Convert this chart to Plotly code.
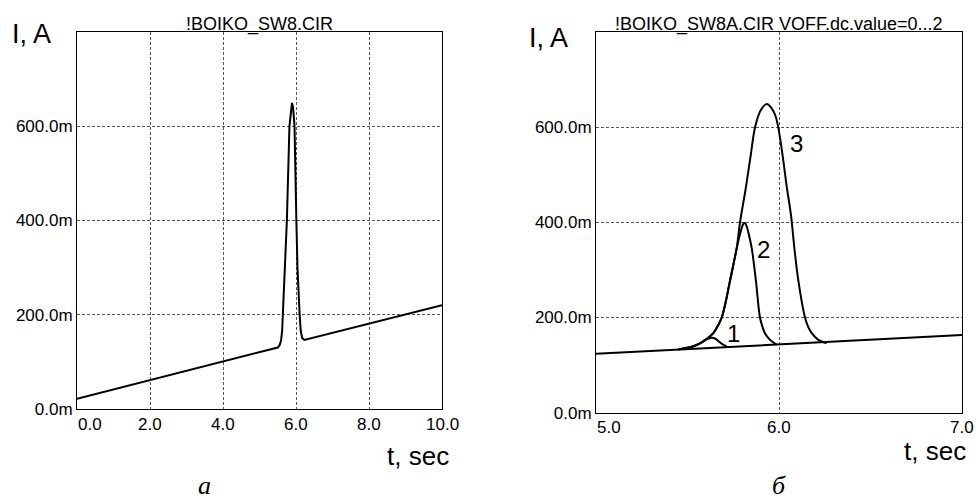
import plotly.graph_objects as go

W, H = 977, 501

# ---------------- data ----------------
# panel a: !BOIKO_SW8.CIR
left_t = [0.0, 5.50, 5.55, 5.59, 5.62, 5.64, 5.69, 5.75, 5.82, 5.86, 5.89, 5.92, 5.96,
          6.01, 6.04, 6.10, 6.13, 6.17, 6.23, 10.0]
left_i = [0.021, 0.130, 0.135, 0.145, 0.165, 0.200, 0.300, 0.400, 0.600, 0.640, 0.650,
          0.640, 0.600, 0.400, 0.300, 0.200, 0.165, 0.150, 0.146, 0.220]

# panel б: !BOIKO_SW8A.CIR VOFF.dc.value=0...2
base_t = [5.0, 7.0]
base_i = [0.124, 0.163]

curve1_t = [5.45, 5.52, 5.56, 5.586, 5.60, 5.625, 5.65, 5.67, 5.69, 5.715]
curve1_i = [0.133, 0.138, 0.144, 0.150, 0.153, 0.157, 0.156, 0.150, 0.144, 0.139]

curve2_t = [5.45, 5.52, 5.56, 5.586, 5.615, 5.641, 5.665, 5.687, 5.71, 5.732, 5.75,
            5.769, 5.79, 5.805, 5.814, 5.825, 5.838, 5.851, 5.874, 5.896, 5.91, 5.923,
            5.951, 5.987]
curve2_i = [0.133, 0.138, 0.144, 0.150, 0.158, 0.167, 0.182, 0.200, 0.235, 0.277, 0.310,
            0.346, 0.380, 0.397, 0.399, 0.390, 0.370, 0.346, 0.277, 0.200, 0.180, 0.167,
            0.153, 0.143]

curve3_t = [5.45, 5.52, 5.56, 5.586, 5.615, 5.641, 5.665, 5.687, 5.71, 5.732, 5.75,
            5.769, 5.787, 5.82, 5.845, 5.869, 5.90, 5.933, 5.96, 5.98, 5.996, 6.02,
            6.042, 6.066, 6.084, 6.106, 6.142, 6.16, 6.179, 6.215, 6.26]
curve3_i = [0.133, 0.138, 0.144, 0.150, 0.158, 0.167, 0.182, 0.200, 0.235, 0.277, 0.310,
            0.346, 0.400, 0.476, 0.540, 0.600, 0.636, 0.649, 0.640, 0.625, 0.600, 0.540,
            0.476, 0.414, 0.346, 0.277, 0.200, 0.180, 0.167, 0.153, 0.146]

curve_labels = ["1", "2", "3"]
curve_label_t = [5.751, 5.918, 6.097]
curve_label_i = [0.167, 0.344, 0.567]

y_tickvals = [0.0, 0.2, 0.4, 0.6]
y_ticktext = ["0.0m", "200.0m", "400.0m", "600.0m"]
left_xtickvals = [0, 2, 4, 6, 8, 10]
left_xticktext = ["0.0", "2.0", "4.0", "6.0", "8.0", "10.0"]
right_xtickvals = [5, 6, 7]
right_xticktext = ["5.0", "6.0", "7.0"]

# ---------------- figure ----------------
def px_x(p):
    return p / W

def px_y(p):
    return 1 - p / H

FONT = "Arial, Liberation Sans, sans-serif"
SERIF = "Liberation Serif, Times New Roman, serif"
line_style = dict(color="black", width=2)
smooth_style = dict(color="black", width=2, shape="spline", smoothing=1.0)

fig = go.Figure()
fig.add_trace(go.Scatter(x=left_t, y=left_i, mode="lines", line=line_style,
                         xaxis="x", yaxis="y", showlegend=False, hoverinfo="skip"))
fig.add_trace(go.Scatter(x=base_t, y=base_i, mode="lines", line=line_style,
                         xaxis="x2", yaxis="y2", showlegend=False, hoverinfo="skip"))
for tt, ii in [(curve1_t, curve1_i), (curve2_t, curve2_i), (curve3_t, curve3_i)]:
    fig.add_trace(go.Scatter(x=tt, y=ii, mode="lines", line=smooth_style,
                             xaxis="x2", yaxis="y2", showlegend=False, hoverinfo="skip"))

grid = dict(showgrid=True, gridcolor="#555555", griddash="3px,2px", gridwidth=1,
            showline=True, linecolor="black", linewidth=1, mirror=True,
            zeroline=False, ticks="")

L_dom_x = [px_x(77), px_x(442)]
L_dom_y = [px_y(417), px_y(33)]
R_dom_x = [px_x(596), px_x(962)]
R_dom_y = [px_y(421), px_y(33)]

fig.update_layout(
    width=W, height=H,
    margin=dict(l=0, r=0, t=0, b=0),
    paper_bgcolor="white", plot_bgcolor="white",
    font=dict(family=FONT, color="black"),
    xaxis=dict(domain=L_dom_x, range=[0, 10], anchor="y", tickvals=left_xtickvals,
               showticklabels=False, **grid),
    yaxis=dict(domain=L_dom_y, range=[0, 0.8], anchor="x", tickvals=y_tickvals,
               ticktext=y_ticktext, tickfont=dict(size=17, family=FONT), **grid),
    xaxis2=dict(domain=R_dom_x, range=[5, 7], anchor="y2", tickvals=right_xtickvals,
                showticklabels=False, **grid),
    yaxis2=dict(domain=R_dom_y, range=[0, 0.8], anchor="x2", tickvals=y_tickvals,
                ticktext=y_ticktext, tickfont=dict(size=17, family=FONT), **grid),
)

ann = []
# x tick labels
for i, (v, t) in enumerate(zip(left_xtickvals, left_xticktext)):
    ann.append(dict(x=v, xref="x", y=px_y(422), yref="paper", text=t, showarrow=False,
                    xanchor="left" if i == 0 else "center", yanchor="top", borderpad=0,
                    font=dict(size=17, family=FONT)))
for i, (v, t) in enumerate(zip(right_xtickvals, right_xticktext)):
    ann.append(dict(x=v, xref="x2", y=px_y(425), yref="paper", text=t, showarrow=False,
                    xanchor="left" if i == 0 else "center", yanchor="top", borderpad=0,
                    font=dict(size=17, family=FONT)))
# titles
ann.append(dict(x=px_x(259.5), xref="paper", y=px_y(25), yref="paper", text="!BOIKO_SW8.CIR",
                showarrow=False, xanchor="center", yanchor="middle", font=dict(size=18, family=FONT)))
ann.append(dict(x=px_x(779), xref="paper", y=px_y(25), yref="paper",
                text="!BOIKO_SW8A.CIR VOFF.dc.value=0...2",
                showarrow=False, xanchor="center", yanchor="middle", font=dict(size=18, family=FONT)))
# axis labels
ann.append(dict(x=px_x(10), xref="paper", y=px_y(35), yref="paper", text="I, A",
                showarrow=False, xanchor="left", yanchor="middle", font=dict(size=27, family=FONT)))
ann.append(dict(x=px_x(527), xref="paper", y=px_y(39), yref="paper", text="I, A",
                showarrow=False, xanchor="left", yanchor="middle", font=dict(size=27, family=FONT)))
ann.append(dict(x=px_x(450), xref="paper", y=px_y(465), yref="paper", text="t, sec",
                showarrow=False, xanchor="right", yanchor="middle", borderpad=0,
                font=dict(size=26, family=FONT)))
ann.append(dict(x=px_x(967), xref="paper", y=px_y(460), yref="paper", text="t, sec",
                showarrow=False, xanchor="right", yanchor="middle", borderpad=0,
                font=dict(size=26, family=FONT)))
# curve numbers
for lab, tt, ii in zip(curve_labels, curve_label_t, curve_label_i):
    ann.append(dict(x=tt, xref="x2", y=ii, yref="y2", text=lab, showarrow=False,
                    xanchor="center", yanchor="middle", font=dict(size=24, family=FONT)))
# panel captions
ann.append(dict(x=px_x(204), xref="paper", y=px_y(495), yref="paper", text="<i>а</i>",
                showarrow=False, xanchor="center", yanchor="middle", borderpad=0,
                font=dict(size=26, family=SERIF)))
ann.append(dict(x=px_x(779), xref="paper", y=px_y(495), yref="paper", text="<i>б</i>",
                showarrow=False, xanchor="center", yanchor="middle", borderpad=0,
                font=dict(size=26, family=SERIF)))

fig.update_layout(annotations=ann)
fig.write_html("out.html", config={"displayModeBar": False},
               post_script="document.body.style.margin='0';document.body.style.overflow='hidden';")
